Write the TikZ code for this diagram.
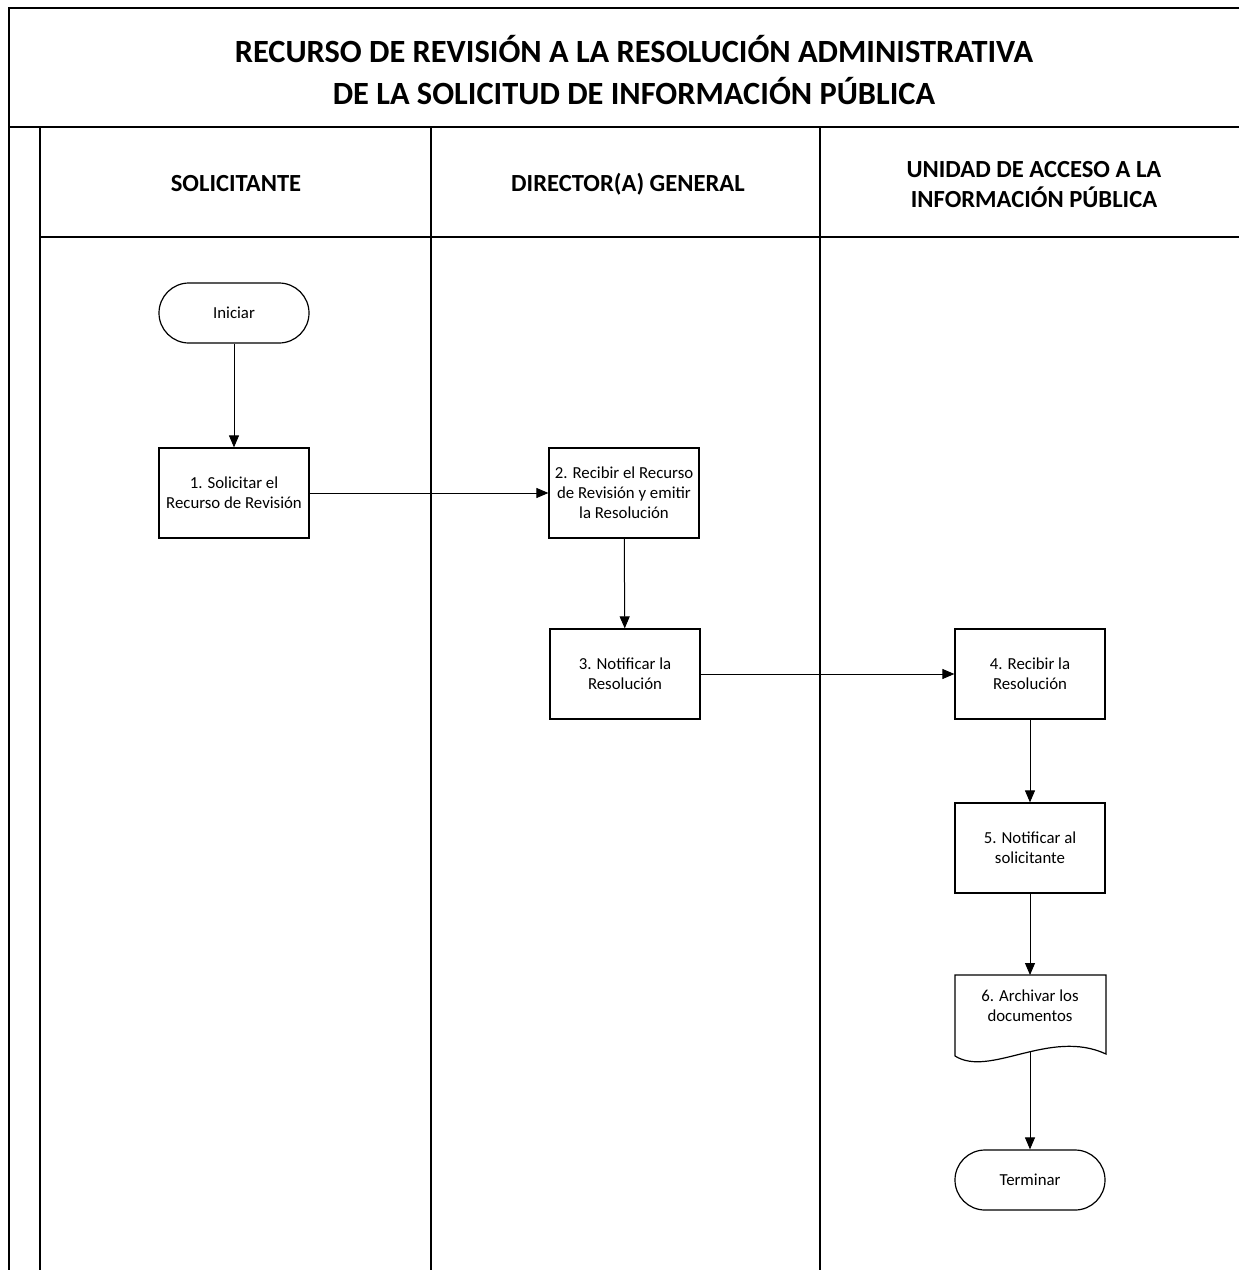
\documentclass[tikz,border=0pt]{standalone}
\usepackage{fontspec}
\setmainfont{Carlito}
\usetikzlibrary{arrows.meta,calc}

\tikzset{
  marco/.style={line width=1pt},
  carril/.style={line width=0.7pt},
  titulo/.style={align=center, font=\fontsize{16.2}{21}\selectfont\bfseries},
  cabecera/.style={align=center, font=\fontsize{12.3}{15}\selectfont\bfseries},
  paso/.style={draw, line width=0.6pt, minimum width=75pt, minimum height=45pt,
    inner sep=1pt, align=center, font=\fontsize{8.4}{10}\selectfont},
  limite/.style={paso, minimum height=30pt, rounded corners=15pt},
  flujo/.style={line width=0.5pt, -{Triangle[length=6pt,width=5pt]}}
}

\begin{document}
\begin{tikzpicture}[x=0.5pt,y=-0.5pt]
  \useasboundingbox (0,0) rectangle (1239,1270);

  % marco y carriles
  \draw[marco] (1239,8) -- (9,8) -- (9,1270);
  \draw[marco] (9,127) -- (1239,127);
  \draw[marco] (40,127) -- (40,1270);
  \draw[marco] (40,237) -- (1239,237);
  \foreach \x in {431,820}{
    \draw[carril] (\x,127) -- (\x,1270);
  }

  \node[titulo] (titulo) at (634,70)
    {RECURSO DE REVISIÓN A LA RESOLUCIÓN ADMINISTRATIVA\\DE LA SOLICITUD DE INFORMACIÓN PÚBLICA};
  \node[cabecera] (solicitante) at (236,184) {SOLICITANTE};
  \node[cabecera] (director) at (628,184) {DIRECTOR(A) GENERAL};
  \node[cabecera] (unidad) at (1034,185) {UNIDAD DE ACCESO A LA\\INFORMACIÓN PÚBLICA};

  % pasos
  \node[limite] (ini) at (234,313) {Iniciar};
  \node[paso] (p1) at (234,493) {1. Solicitar el\\Recurso de Revisión};
  \node[paso] (p2) at (624,493) {2. Recibir el Recurso\\de Revisión y emitir\\la Resolución};
  \node[paso] (p3) at (625,674) {3. Notificar la\\Resolución};
  \node[paso] (p4) at (1030,674) {4. Recibir la\\Resolución};
  \node[paso] (p5) at (1030,848) {5. Notificar al\\solicitante};
  \node[align=center, font=\fontsize{8.4}{10}\selectfont] (p6) at (1030,1006)
    {6. Archivar los\\documentos};
  \node[limite] (fin) at (1030,1180) {Terminar};

  % documento
  \coordinate (p6arr) at (1030,975);
  \coordinate (p6ab) at (1030,1052);
  \draw[line width=0.6pt] (955,1056) -- (955,975) -- (1106,975) -- (1106,1054)
    .. controls (1050,1028) and (990,1078) .. (955,1056);

  % conectores
  \draw[flujo] (ini) -- (p1);
  \draw[flujo] (p1) -- (p2);
  \draw[flujo] (p2) -- (p3);
  \draw[flujo] (p3) -- (p4);
  \draw[flujo] (p4) -- (p5);
  \draw[flujo] (p5) -- (p6arr);
  \draw[flujo] (p6ab) -- (fin);
\end{tikzpicture}
\end{document}
